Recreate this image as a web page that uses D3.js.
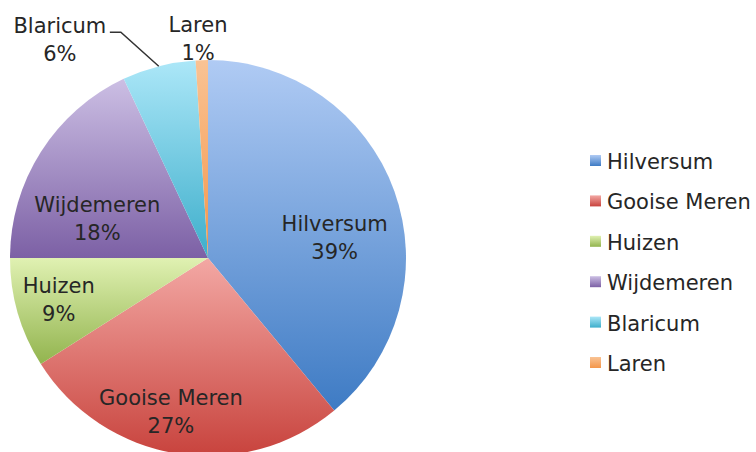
<!DOCTYPE html>
<html>
<head>
<meta charset="utf-8">
<script src="https://cdn.jsdelivr.net/npm/d3@7"></script>
<style>
  body { margin: 0; background: #fff; }
  text { font-family: "DejaVu Sans", sans-serif; fill: #262626; }
</style>
</head>
<body>
<div id="chart"></div>
<script>
const names = ["Hilversum", "Gooise Meren", "Huizen", "Wijdemeren", "Blaricum", "Laren"];
const shares = [39, 27, 9, 18, 6, 1];
const topColors = ["#b0cbf4", "#f3a8a4", "#e0f1b2", "#ccbfe4", "#acE7f8", "#f9c394"];
const bottomColors = ["#3e7bc4", "#c8433d", "#92b44e", "#7c60a5", "#3daecb", "#f4964a"];

// label placement: centroid at a radius, then a nudge (Excel "best fit")
const labelNudge = {
  "Hilversum": [0, 24], "Gooise Meren": [-16, 19], "Huizen": [-20, 2],
  "Wijdemeren": [3, 31], "Blaricum": [-93, -5], "Laren": [-3, 1]
};
const outside = ["Blaricum", "Laren"];

const width = 756, height = 452;
const cx = 208, cy = 258, R = 198;
const fontSize = "21px";

const data = names.map((n, i) => ({ name: n, value: shares[i], i }));

const svg = d3.select("#chart").append("svg")
  .attr("width", width).attr("height", height);

const defs = svg.append("defs");
data.forEach(d => {
  const g = defs.append("linearGradient").attr("id", "grad" + d.i)
    .attr("x1", 0).attr("y1", 0).attr("x2", 0).attr("y2", 1);
  g.append("stop").attr("offset", "0%").attr("stop-color", topColors[d.i]);
  g.append("stop").attr("offset", "100%").attr("stop-color", bottomColors[d.i]);
});

const pie = d3.pie().sort(null).value(d => d.value);
const arcs = pie(data);
const arc = d3.arc().innerRadius(0).outerRadius(R);
const inLabelArc = d3.arc().innerRadius(R * 0.68).outerRadius(R * 0.68);
const outLabelArc = d3.arc().innerRadius(R * 1.12).outerRadius(R * 1.12);
const edgeArc = d3.arc().innerRadius(R).outerRadius(R);

const g = svg.append("g").attr("transform", `translate(${cx},${cy})`);

g.selectAll("path.slice")
  .data(arcs).enter().append("path").attr("class", "slice")
  .attr("d", arc)
  .attr("fill", d => `url(#grad${d.data.i})`);

const labelPos = d => {
  const isOut = outside.includes(d.data.name);
  const c = (isOut ? outLabelArc : inLabelArc).centroid(d);
  const n = labelNudge[d.data.name];
  return [c[0] + n[0], c[1] + n[1]];
};

// leader line for Blaricum
arcs.filter(d => d.data.name === "Blaricum").forEach(d => {
  const p = labelPos(d);
  const e = edgeArc.centroid(d);
  g.append("polyline")
    .attr("points", [[p[0] + 50, p[1] - 6], [p[0] + 61, p[1] - 6], e].map(q => q.join(",")).join(" "))
    .attr("fill", "none").attr("stroke", "#333").attr("stroke-width", 1.5);
});

const labels = g.selectAll("text.lbl")
  .data(arcs).enter().append("text").attr("class", "lbl")
  .attr("text-anchor", "middle")
  .style("font-size", fontSize);
labels.append("tspan")
  .attr("x", d => labelPos(d)[0]).attr("y", d => labelPos(d)[1] - 5)
  .text(d => d.data.name);
labels.append("tspan")
  .attr("x", d => labelPos(d)[0]).attr("y", d => labelPos(d)[1] + 23)
  .text(d => d.data.value + "%");

// legend
const ly = d3.scalePoint().domain(names).range([169, 371]);
const legend = svg.append("g").attr("class", "legend");
const item = legend.selectAll("g").data(data).enter().append("g")
  .attr("transform", d => `translate(590,${ly(d.name)})`);
item.append("rect")
  .attr("x", 0).attr("y", -14).attr("width", 11).attr("height", 11)
  .attr("fill", d => `url(#grad${d.i})`);
item.append("text")
  .attr("x", 17).attr("y", 0)
  .style("font-size", fontSize)
  .text(d => d.name);
</script>
</body>
</html>
